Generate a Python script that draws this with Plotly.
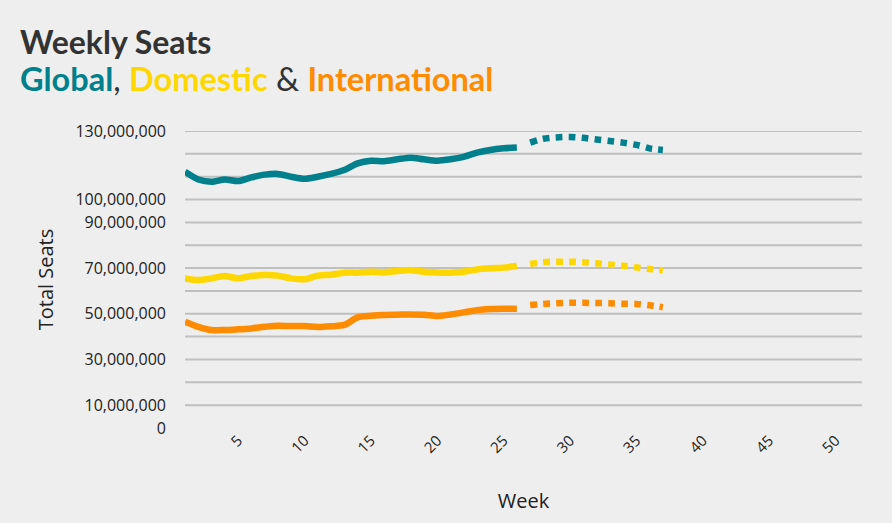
import plotly.graph_objects as go

weeks_actual = list(range(1, 27))
weeks_forecast = list(range(27, 38))

global_actual = [112.2, 108.8, 107.8, 108.8, 108.1, 109.7, 110.9, 111.2, 110.0, 109.1,
                 110.0, 111.2, 112.9, 115.8, 117.0, 116.8, 117.6, 118.3, 117.6, 117.0,
                 117.6, 118.7, 120.5, 121.7, 122.4, 122.8]
global_forecast = [124.9, 126.6, 127.2, 127.4, 127.0, 126.3, 125.6, 124.9, 123.9, 122.4, 121.7]

domestic_actual = [65.5, 64.8, 65.5, 66.5, 65.5, 66.5, 67.0, 66.7, 65.5, 65.1,
                   66.7, 67.1, 68.0, 68.0, 68.4, 68.1, 68.7, 69.1, 68.4, 68.1,
                   68.0, 68.4, 69.4, 69.9, 70.2, 70.9]
domestic_forecast = [71.8, 72.6, 72.8, 72.8, 72.6, 72.1, 71.6, 71.0, 70.3, 69.6, 69.0]

intl_actual = [46.5, 44.3, 42.9, 42.9, 43.2, 43.6, 44.3, 44.8, 44.6, 44.6,
               44.2, 44.5, 45.1, 48.4, 49.1, 49.5, 49.6, 49.7, 49.6, 49.0,
               49.7, 50.6, 51.6, 52.1, 52.2, 52.2]
intl_forecast = [53.8, 54.3, 54.6, 54.8, 54.8, 54.7, 54.6, 54.4, 54.3, 53.7, 52.8]

y_tick_vals = [0, 10e6, 30e6, 50e6, 70e6, 90e6, 100e6, 130e6]
grid_vals = [v * 1e6 for v in range(10, 140, 10)]
x_tick_vals = [5, 10, 15, 20, 25, 30, 35, 40, 45, 50]

C_GLOBAL = "#00808C"
C_DOM = "#FFD700"
C_INTL = "#FF8C00"

fig = go.Figure()

def m(vals):
    return [v * 1e6 for v in vals]

series = [
    (global_actual, global_forecast, C_GLOBAL, "Global"),
    (domestic_actual, domestic_forecast, C_DOM, "Domestic"),
    (intl_actual, intl_forecast, C_INTL, "International"),
]
for act, fc, col, name in series:
    fig.add_trace(go.Scatter(x=weeks_actual, y=m(act), mode="lines", name=name,
                             line=dict(color=col, width=6.5, shape="spline", smoothing=0.8),
                             showlegend=False))
    fig.add_trace(go.Scatter(x=weeks_forecast, y=m(fc), mode="lines", name=name + " forecast",
                             line=dict(color=col, width=6.5, shape="spline", smoothing=0.8,
                                       dash="7px,6px"),
                             showlegend=False))

for g in grid_vals:
    fig.add_shape(type="line", xref="x domain", yref="y", x0=0, x1=1, y0=g, y1=g,
                  line=dict(color="#BFBFBF", width=2), layer="below")

# Title annotations (paper coords relative to plot area: x 185..862, y 131..428)
PL, PW, PB, PH = 185, 677, 428, 297
def px_x(x):
    return (x - PL) / PW
def px_y(y):
    return (PB - y) / PH

line2 = (
    f"<b><span style='color:{C_GLOBAL}'>Global</span></b>, "
    f"<b><span style='color:{C_DOM}'>Domestic</span></b> &amp; "
    f"<b><span style='color:{C_INTL}'>International</span></b>"
)
fig.add_annotation(text="<b>Weekly Seats</b>", xref="paper", yref="paper",
                   x=px_x(18), y=px_y(42), xanchor="left", yanchor="middle",
                   showarrow=False, font=dict(family="Lato, sans-serif", size=32, color="#333333"))
fig.add_annotation(text=line2, xref="paper", yref="paper",
                   x=px_x(18), y=px_y(79), xanchor="left", yanchor="middle",
                   showarrow=False, font=dict(family="Lato, sans-serif", size=32.5, color="#333333"))

fig.update_layout(
    width=892, height=523,
    paper_bgcolor="#EEEEEE", plot_bgcolor="#EEEEEE",
    margin=dict(l=PL, r=892 - PL - PW, t=PB - PH, b=523 - PB),
    font=dict(family="Open Sans, sans-serif", color="#222222", size=14),
    xaxis=dict(range=[1, 52], tickvals=x_tick_vals, tickangle=-45, showgrid=False,
               zeroline=False, showline=False, ticks="",
               tickfont=dict(size=15, color="#222222"),
               title=dict(text="Week", font=dict(size=20), standoff=38)),
    yaxis=dict(range=[0, 130e6], tickvals=y_tick_vals, tickformat=",", showgrid=False,
               zeroline=False, showline=False, ticks="", ticklabelstandoff=18,
               tickfont=dict(size=16, color="#222222"),
               title=dict(text="Total Seats", font=dict(size=20), standoff=16)),
)

fig.write_html("out.html", config={"displayModeBar": False},
               post_script="document.body.style.margin='0px';document.body.style.overflow='hidden';")
